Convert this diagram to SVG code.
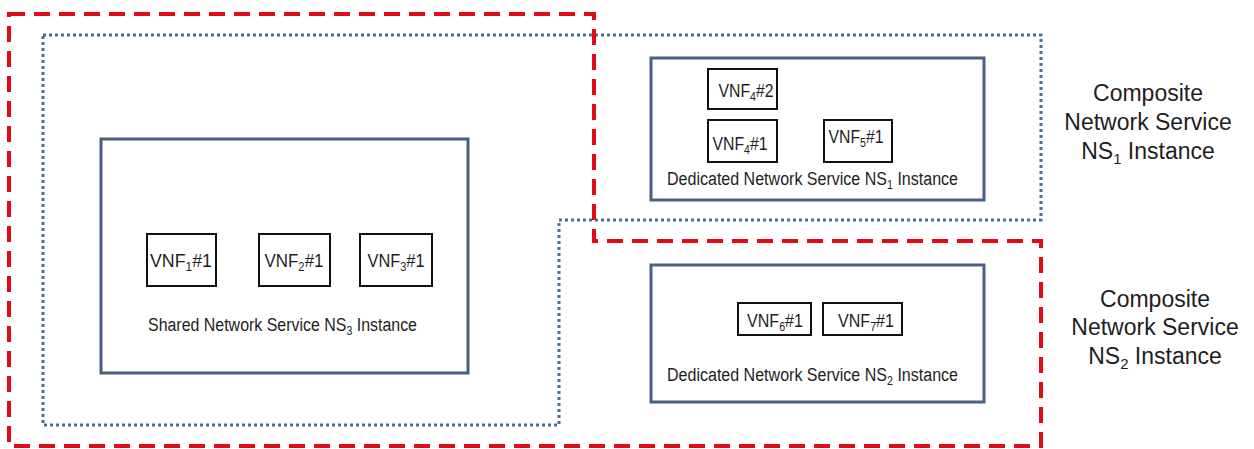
<svg xmlns="http://www.w3.org/2000/svg" width="1254" height="449" viewBox="0 0 1254 449">
  <style>
    .bg { fill: #ffffff; }
    .composite1 { fill: none; stroke: #e00b14; stroke-width: 4; stroke-dasharray: 16 9; }
    .composite2 { fill: none; stroke: #4f6d8c; stroke-width: 3; stroke-dasharray: 3 3; }
    .ns { fill: #ffffff; stroke: #49617f; stroke-width: 3; }
    .vnf { fill: #ffffff; stroke: #111111; stroke-width: 2; }
    text { font-family: "Liberation Sans", Arial, sans-serif; fill: #1e1e1e; }
    .lbl { font-size: 18px; }
    .vl { font-size: 18px; text-anchor: middle; }
    .big { font-size: 23px; text-anchor: middle; }
  </style>

  <rect class="bg" x="0" y="0" width="1254" height="449"/>

  <!-- Composite NS2 instance boundary (dotted) -->
  <g id="composite-ns2-outline">
    <path class="composite2" d="M43,35 H1041 V220 H559 V425 H43 Z"/>
  </g>

  <!-- Composite NS1 instance boundary (dashed) -->
  <g id="composite-ns1-outline">
    <path class="composite1" d="M9,14 H594 V241 H1041 V446 H9 Z"/>
  </g>

  <!-- Shared NS3 -->
  <g id="shared-ns3">
    <rect class="ns" x="101" y="139" width="367" height="234"/>
    <text class="lbl" x="148" y="331" textLength="269" lengthAdjust="spacingAndGlyphs">Shared Network Service NS<tspan dy="4" font-size="12">3</tspan><tspan dy="-4"> Instance</tspan></text>
  </g>
  <g id="vnf1-1">
    <rect class="vnf" x="147" y="234" width="69" height="52"/>
    <text class="vl" x="181" y="267" textLength="62" lengthAdjust="spacingAndGlyphs">VNF<tspan dy="4" font-size="12">1</tspan><tspan dy="-4">#1</tspan></text>
  </g>
  <g id="vnf2-1">
    <rect class="vnf" x="259" y="234" width="71" height="52"/>
    <text class="vl" x="294" y="267" textLength="59" lengthAdjust="spacingAndGlyphs">VNF<tspan dy="4" font-size="12">2</tspan><tspan dy="-4">#1</tspan></text>
  </g>
  <g id="vnf3-1">
    <rect class="vnf" x="360" y="234" width="72" height="52"/>
    <text class="vl" x="396" y="267" textLength="57" lengthAdjust="spacingAndGlyphs">VNF<tspan dy="4" font-size="12">3</tspan><tspan dy="-4">#1</tspan></text>
  </g>

  <!-- Dedicated NS1 -->
  <g id="dedicated-ns1">
    <rect class="ns" x="651" y="58" width="333" height="142"/>
    <text class="lbl" x="667" y="185" textLength="291" lengthAdjust="spacingAndGlyphs">Dedicated Network Service NS<tspan dy="4" font-size="12">1</tspan><tspan dy="-4"> Instance</tspan></text>
  </g>
  <g id="vnf4-2">
    <rect class="vnf" x="708" y="69" width="69" height="40"/>
    <text class="vl" x="746" y="97" textLength="55" lengthAdjust="spacingAndGlyphs">VNF<tspan dy="4" font-size="12">4</tspan><tspan dy="-4">#2</tspan></text>
  </g>
  <g id="vnf4-1">
    <rect class="vnf" x="708" y="120" width="69" height="42"/>
    <text class="vl" x="740" y="150" textLength="55" lengthAdjust="spacingAndGlyphs">VNF<tspan dy="4" font-size="12">4</tspan><tspan dy="-4">#1</tspan></text>
  </g>
  <g id="vnf5-1">
    <rect class="vnf" x="824" y="120" width="68" height="42"/>
    <text class="vl" x="856" y="143" textLength="55" lengthAdjust="spacingAndGlyphs">VNF<tspan dy="4" font-size="12">5</tspan><tspan dy="-4">#1</tspan></text>
  </g>

  <!-- Dedicated NS2 -->
  <g id="dedicated-ns2">
    <rect class="ns" x="651" y="265" width="333" height="137"/>
    <text class="lbl" x="667" y="381" textLength="291" lengthAdjust="spacingAndGlyphs">Dedicated Network Service NS<tspan dy="4" font-size="12">2</tspan><tspan dy="-4"> Instance</tspan></text>
  </g>
  <g id="vnf6-1">
    <rect class="vnf" x="738" y="303" width="73" height="32"/>
    <text class="vl" x="775" y="327" textLength="56" lengthAdjust="spacingAndGlyphs">VNF<tspan dy="4" font-size="12">6</tspan><tspan dy="-4">#1</tspan></text>
  </g>
  <g id="vnf7-1">
    <rect class="vnf" x="823" y="303" width="79" height="32"/>
    <text class="vl" x="866" y="327" textLength="56" lengthAdjust="spacingAndGlyphs">VNF<tspan dy="4" font-size="12">7</tspan><tspan dy="-4">#1</tspan></text>
  </g>

  <!-- Composite service labels -->
  <g id="label-composite-ns1">
    <text class="big" x="1148" y="101">Composite</text>
    <text class="big" x="1148" y="130">Network Service</text>
    <text class="big" x="1148" y="159">NS<tspan dy="5" font-size="15">1</tspan><tspan dy="-5"> Instance</tspan></text>
  </g>
  <g id="label-composite-ns2">
    <text class="big" x="1155" y="307">Composite</text>
    <text class="big" x="1155" y="335">Network Service</text>
    <text class="big" x="1155" y="364">NS<tspan dy="5" font-size="15">2</tspan><tspan dy="-5"> Instance</tspan></text>
  </g>

  <g id="connectors"/>
</svg>
